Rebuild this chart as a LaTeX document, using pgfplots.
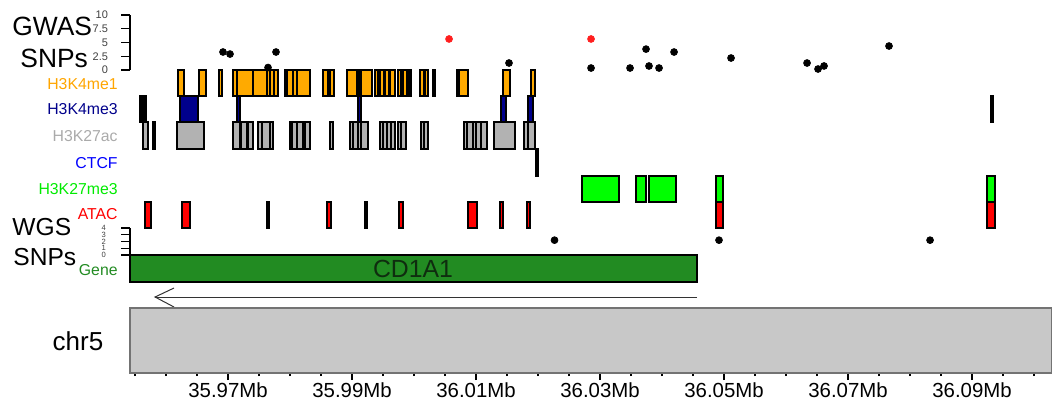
\documentclass[border=0pt]{standalone}
\usepackage{pgfplots}
\pgfplotsset{compat=1.18}
\usepackage{fontspec}
\setmainfont{Liberation Sans}
\definecolor{cOr}{RGB}{255,170,0}
\definecolor{cNavy}{RGB}{0,0,140}
\definecolor{cGray}{RGB}{178,178,178}
\definecolor{cLime}{RGB}{0,255,0}
\definecolor{cRed}{RGB}{255,0,0}
\definecolor{cGene}{RGB}{34,139,34}
\definecolor{cChr}{RGB}{200,200,200}
\definecolor{cLblOr}{RGB}{255,165,0}
\definecolor{cLblNavy}{RGB}{0,0,139}
\definecolor{cLblGray}{RGB}{170,170,170}
\definecolor{cLblBlue}{RGB}{0,0,255}
\definecolor{cLblLime}{RGB}{0,235,0}
\definecolor{cPtRed}{RGB}{255,30,30}
\pgfplotsset{box/.style={draw=black, line width=0.6pt, mark=none, forget plot}}
\newcommand{\R}[5]{\addplot[box, fill=#5] coordinates {(#1,#3) (#2,#3) (#2,#4) (#1,#4)} -- cycle;}
\newcommand{\Ma}[2]{\R{#1}{#2}{277}{303}{cOr}}
\newcommand{\Mb}[2]{\R{#1}{#2}{251}{277}{cNavy}}
\newcommand{\Ac}[2]{\R{#1}{#2}{224}{251}{cGray}}
\newcommand{\Ct}[2]{\R{#1}{#2}{197}{224}{black}}
\newcommand{\Mt}[2]{\R{#1}{#2}{171}{197}{cLime}}
\newcommand{\At}[2]{\R{#1}{#2}{145}{171}{cRed}}
\begin{document}
\begin{tikzpicture}
\useasboundingbox (-65pt,-15pt) rectangle (461pt,186.5pt);
\begin{axis}[
  at={(0pt,0pt)}, anchor=south west, scale only axis,
  width=461pt, height=186.5pt,
  xmin=35954.19, xmax=36102.90, ymin=0, ymax=373,
  axis x line*=bottom, axis y line=none,
  x axis line style={draw=black!75, line width=0.9pt, -},
  xtick={35970,35990,36010,36030,36050,36070,36090},
  xticklabels={35.97Mb,35.99Mb,36.01Mb,36.03Mb,36.05Mb,36.07Mb,36.09Mb},
  minor xtick={35955,35960,...,36100},
  tick align=outside, major tick length=3.5pt, minor tick length=1.5pt,
  tick style={black, line width=0.6pt},
  xticklabel style={font=\fontsize{10.2}{10.2}\selectfont, inner sep=0.5pt, yshift=-0.8pt},
  clip=false,
]
% H3K4me1
\Ma{35961.94}{35962.90}
\Ma{35965.32}{35966.45}
\Ma{35968.55}{35969.03}
\Ma{35970.81}{35971.45}
\Ma{35971.45}{35974.03}
\Ma{35974.03}{35976.29}
\Ma{35976.29}{35976.77}
\Ma{35976.77}{35977.42}
\Ma{35977.42}{35978.06}
\Ma{35979.19}{35979.52}
\Ma{35979.52}{35980.48}
\Ma{35980.48}{35981.13}
\Ma{35981.13}{35983.23}
\Ma{35985.32}{35986.13}
\Ma{35986.45}{35987.10}
\Ma{35989.19}{35990.81}
\Ma{35990.97}{35991.29}
\Ma{35991.45}{35993.23}
\Ma{35993.71}{35994.19}
\Ma{35994.52}{35995.16}
\Ma{35995.32}{35995.97}
\Ma{35996.13}{35996.94}
\Ma{35997.42}{35997.90}
\Ma{35998.23}{35998.87}
\Ma{35999.19}{35999.52}
\Ma{36000.97}{36001.61}
\Ma{36001.77}{36002.26}
\Ma{36003.06}{36003.39}
\Ma{36006.94}{36007.26}
\Ma{36007.26}{36008.71}
\Ma{36014.35}{36015.48}
\Ma{36018.87}{36019.52}
% H3K4me3
\Mb{35955.81}{35956.13}
\Mb{35956.45}{35956.77}
\Mb{35962.26}{35965.16}
\Mb{35971.45}{35971.94}
\Mb{35990.97}{35991.45}
\Mb{36014.03}{36014.84}
\Mb{36018.39}{36019.19}
\Mb{36093.06}{36093.39}
% H3K27ac
\Ac{35956.29}{35957.10}
\Ac{35957.90}{35958.23}
\Ac{35961.77}{35966.13}
\Ac{35970.81}{35971.94}
\Ac{35972.10}{35973.06}
\Ac{35973.23}{35974.03}
\Ac{35974.84}{35975.48}
\Ac{35975.48}{35976.77}
\Ac{35976.77}{35977.26}
\Ac{35980.00}{35980.32}
\Ac{35980.32}{35981.13}
\Ac{35981.13}{35982.10}
\Ac{35982.10}{35982.42}
\Ac{35982.42}{35983.23}
\Ac{35986.45}{35986.94}
\Ac{35989.68}{35990.16}
\Ac{35990.16}{35990.97}
\Ac{35990.97}{35991.45}
\Ac{35991.45}{35992.58}
\Ac{35994.52}{35995.00}
\Ac{35995.00}{35995.65}
\Ac{35995.65}{35996.29}
\Ac{35996.29}{35996.94}
\Ac{35997.42}{35997.90}
\Ac{35997.90}{35998.71}
\Ac{36001.13}{36001.61}
\Ac{36001.61}{36002.26}
\Ac{36008.06}{36008.55}
\Ac{36008.55}{36009.52}
\Ac{36009.52}{36010.00}
\Ac{36010.00}{36010.81}
\Ac{36010.81}{36011.77}
\Ac{36012.90}{36016.29}
\Ac{36017.74}{36018.39}
\Ac{36018.39}{36019.52}
% CTCF
\Ct{36019.68}{36020.00}
% H3K27me3
\Mt{36027.10}{36033.06}
\Mt{36035.81}{36037.42}
\Mt{36037.90}{36042.26}
\Mt{36048.71}{36049.84}
\Mt{36092.42}{36093.71}
% ATAC
\At{35956.61}{35957.58}
\At{35962.58}{35963.87}
\At{35976.29}{35976.61}
\At{35985.97}{35986.61}
\At{35992.10}{35992.42}
\At{35997.58}{35998.23}
\At{36008.71}{36010.16}
\At{36013.87}{36014.35}
\At{36018.23}{36018.71}
\At{36048.71}{36049.84}
\At{36092.42}{36093.71}
% Gene
\R{35954.19}{36045.65}{91}{118}{cGene}
\node[font=\fontsize{12.4}{12.4}\selectfont, text={rgb,255:red,15;green,45;blue,15}] at (axis cs:35999.84,104.5) {CD1A1};
% strand arrow
\addplot[black!80, line width=0.5pt, mark=none, forget plot] coordinates {(36045.65,76) (35958.23,76)};
\addplot[black!80, line width=0.5pt, mark=none, forget plot] coordinates {(35961.29,85) (35958.23,76) (35961.29,66)};
% chromosome
\addplot[draw=black!55, line width=0.6pt, fill=cChr, mark=none, forget plot] coordinates {(35954.19,0) (36102.90,0) (36102.90,65) (35954.19,65)} -- cycle;
\end{axis}
% GWAS SNPs
\begin{axis}[
  at={(0pt,151.5pt)}, anchor=south west, scale only axis,
  width=461pt, height=27.5pt,
  xmin=35954.19, xmax=36102.90, ymin=0, ymax=10,
  axis x line=none, axis y line*=left,
  y axis line style={black, line width=0.6pt, -},
  ytick={0,2.5,5,7.5,10}, yticklabels={0,2.5,5,7.5,10},
  tick align=outside, major tick length=4.5pt,
  tick style={black, line width=0.6pt},
  yticklabel style={font=\fontsize{5.5}{5.5}\selectfont, text=black!75, xshift=-3pt},
  clip=false,
]
\addplot[only marks, mark=*, mark size=1.7pt, black] coordinates {
(35969.19,3.27) (35970.32,2.9) (35977.74,3.27) (35976.45,0.45) (36015.32,1.27)
(36028.55,0.36) (36034.84,0.36) (36037.42,3.8) (36037.90,0.73) (36039.52,0.36)
(36041.94,3.27) (36051.13,2.18) (36063.39,1.27) (36065.16,0.18) (36066.13,0.73)
(36076.61,4.36)};
\addplot[only marks, mark=*, mark size=1.7pt, cPtRed] coordinates {
(36005.65,5.64) (36028.55,5.64)};
\end{axis}
% WGS SNPs
\begin{axis}[
  at={(0pt,59pt)}, anchor=south west, scale only axis,
  width=461pt, height=13.5pt,
  xmin=35954.19, xmax=36102.90, ymin=0, ymax=4,
  axis x line=none, axis y line*=left,
  y axis line style={black, line width=0.6pt, -},
  ytick={0,1,2,3,4},
  tick align=outside, major tick length=4.5pt,
  tick style={black, line width=0.6pt},
  yticklabel style={font=\fontsize{3.8}{3.8}\selectfont, text=black!75, xshift=-4pt},
  /pgf/number format/assume math mode=true,
  clip=false,
]
\addplot[only marks, mark=*, mark size=1.7pt, black] coordinates {
(36022.66,2.2) (36049.19,2.2) (36083.23,2.2)};
\end{axis}
% labels
\begin{scope}[every node/.style={inner sep=0pt}]
\node[anchor=west, font=\fontsize{13.2}{13.2}\selectfont] at (-59pt,173.5pt) {GWAS};
\node[anchor=west, font=\fontsize{13.2}{13.2}\selectfont] at (-55pt,157.5pt) {SNPs};
\node[anchor=west, font=\fontsize{12.3}{12.3}\selectfont] at (-59pt,73pt) {WGS};
\node[anchor=west, font=\fontsize{12.3}{12.3}\selectfont] at (-58.5pt,58pt) {SNPs};
\node[anchor=east, font=\fontsize{7.9}{7.9}\selectfont, text=cLblOr] at (-6pt,144.5pt) {H3K4me1};
\node[anchor=east, font=\fontsize{7.9}{7.9}\selectfont, text=cLblNavy] at (-6pt,132pt) {H3K4me3};
\node[anchor=east, font=\fontsize{7.9}{7.9}\selectfont, text=cLblGray] at (-6pt,118.5pt) {H3K27ac};
\node[anchor=east, font=\fontsize{7.9}{7.9}\selectfont, text=cLblBlue] at (-6pt,105pt) {CTCF};
\node[anchor=east, font=\fontsize{7.9}{7.9}\selectfont, text=cLblLime] at (-6pt,92pt) {H3K27me3};
\node[anchor=east, font=\fontsize{7.9}{7.9}\selectfont, text=cRed] at (-6pt,79.5pt) {ATAC};
\node[anchor=east, font=\fontsize{7.9}{7.9}\selectfont, text=cGene] at (-6pt,51.5pt) {Gene};
\node[font=\fontsize{13}{13}\selectfont] at (-26pt,16pt) {chr5};
\end{scope}
\end{tikzpicture}
\end{document}
